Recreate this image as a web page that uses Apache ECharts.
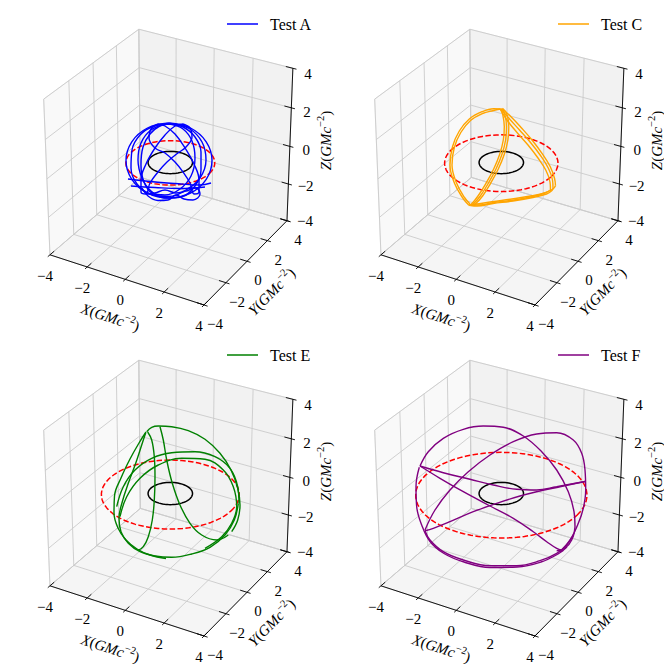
<!DOCTYPE html>
<html><head><meta charset="utf-8">
<script src="https://cdn.jsdelivr.net/npm/echarts@6/dist/echarts.min.js"></script>
<style>html,body{margin:0;padding:0;background:#fff}#c{width:664px;height:664px}</style>
</head><body><div id="c"></div>
<script>
// ---------------- data ----------------
const PANEL_NAMES = ['Test A', 'Test C', 'Test E', 'Test F'];
const PANEL_COLORS = ['#0000ff', '#ffa500', '#008000', '#800080'];
const AXIS_TICKS = [-4, -2, 0, 2, 4];
const TICK_LABELS = ['\u22124', '\u22122', '0', '2', '4'];
const AXIS_TITLES = ['X', 'Y', 'Z'];
const HORIZON_RADIUS = [1.0, 1.0, 1.0, 1.0];
const DASHED_RADIUS = [2.0, 2.55, 3.1, 3.85];

// orbit traces, in screen-plane units of each panel
const ORBIT_A = [
 [[169,123],[190.5,128],[206.2,141.8],[212,160.5],[206.2,179.3],[190.5,193],[169,198],[147.5,193],[131.8,179.3],[126,160.5],[131.8,141.8],[147.5,128],[169,123]],
 [[170,123.5],[189,128.5],[202,142],[206,160],[200,178],[186,190],[168,196.5],[150,194],[137,184],[131,168],[132,150],[140,135],[153,126.5],[170,123.5]],
 [[167,123.5],[183,127],[195,137],[201,152],[201,170],[195,186],[181,197],[165,198],[151,191],[142,178],[138,160],[141,143],[151,130],[167,123.5]],
 [[170,124],[183,129],[192,141],[195,158],[191,176],[180,189],[165,195],[152,193],[144,182],[141,165],[143,147],[150,134],[159,126.5],[170,124]],
 [[183,124],[190,128],[192,137],[186,147],[178,153],[167,162],[158,172],[150,183],[146,194],[141,192],[141,180],[146,164],[155,148],[165,135],[175,126],[183,124]],
 [[158,124],[151,129],[149,138],[155,148],[165,153],[175,162],[183,172],[190,183],[194,194],[199,192],[199,180],[194,164],[185,148],[175,134],[165,126],[158,124]],
 [[128,179],[150,181.5],[175,183.5],[200,185],[211,183]],
 [[131,186],[155,187.5],[180,188.5],[205,187]],
 [[142,188],[148,196],[158,200.5],[168,200],[176,195],[184,199],[193,200],[200,194],[196,188],[186,191],[176,193],[165,190],[155,193],[146,194]]
];
const ORBIT_C = [
 [[169.3,109],[162.7,108.7],[151,111.7],[138.3,119],[128.3,131],[121.5,146.7],[119,165],[123.5,183.3],[132,198.3],[137.7,205]],
 [[169.3,109],[162.5,110.5],[151.5,113.5],[139.5,120.5],[129.8,132.5],[123.3,147.5],[121,165],[125.3,182.5],[133.5,197.5],[139,204]],
 [[137.7,205],[144.3,204.3],[161,201.7],[181,199],[201,195.7],[215,192.3],[222,189],[224.5,185.7]],
 [[139.5,205.5],[146,206],[162,203.5],[182,201],[202,197.5],[215.5,194],[221,190.5],[222,188]],
 [[141,205],[148,205],[163,202.5],[183,200],[202,196.5],[214,193],[219.5,190]],
 [[224.5,185.7],[223.5,178.3],[219.3,166.7],[211,153.3],[201,140],[190.3,127.7],[181,117.7],[173.7,111],[169.3,109]],
 [[222,188],[221.5,180],[217.5,168.5],[209.5,155.5],[199.5,142.5],[188.5,130],[179,119.5],[172.5,112],[169.3,109]],
 [[219.5,190],[219,182],[215,170.5],[207,158],[197,145],[186,132.5],[177,121.5],[171.5,113],[169.3,109]],
 [[169.3,109],[171.7,114.3],[173.3,126.7],[172.3,140],[168.7,154.3],[162.7,169],[155,183.3],[147,196],[140.3,204.3],[137.7,205.7]],
 [[170.5,108.5],[173.7,114],[175.5,126.7],[174.6,140],[171,154.3],[165,169],[157.3,183.3],[149.3,196],[142.3,204],[139.5,205.5]],
 [[171.5,108.3],[175.8,114],[177.8,126.7],[176.9,140],[173.3,154.3],[167.3,169],[159.6,183.3],[151.6,196],[144.5,203.7],[141,205]]
];
const ORBIT_E = [
 [[145.7,101.7],[141.7,114],[135.7,132.3],[128.3,152.3],[122.3,170.7],[119,187.3],[121,200.7],[128.3,212.3],[140,220.7],[155,225],[171.7,226.3],[191.7,223],[210,216.3],[225,204],[234.3,189],[238.3,172.3]],
 [[146,101],[139,112],[130,128],[121,147],[114.5,165],[114,182],[118,197],[126,209],[137,218],[150,224],[166,227.5]],
 [[147.7,101],[151.7,109],[154.3,125.7],[155,145.7],[154.3,169],[152.3,189],[148.3,205.7],[143.3,215.7],[137.7,219.7]],
 [[146.7,100.7],[151.7,96.3],[158.3,95],[171.7,95.7],[188.3,99.7],[205,108.3],[220,122.3],[231,139],[237.7,157.3],[240,174],[237.7,189],[231.7,200.7]],
 [[160,95.7],[163.3,109],[166.7,129],[172.3,152.3],[180,174],[190,192.3],[201.7,204],[216.7,209],[228.3,204]],
 [[116.7,175.7],[123.3,155.7],[135,139],[151.7,127.3],[171.7,121.7],[195,120.7],[215,125.7],[230,137.3],[237.7,155.7],[239,172.3]],
 [[120,185.7],[126.7,165.7],[140,147.3],[158.3,134],[181.7,127.3],[205,128.3],[223.3,139],[233.3,155.7],[236.7,175.7],[231.7,192.3],[221.7,205.7],[205,217.3]]
];
const ORBIT_F = [
 [[89,135],[97.3,120.7],[112.3,107.3],[132.3,98.3],[152.3,95],[172.3,96.3],[192.3,105],[210.7,120.7],[225.7,139],[237.3,160.7],[243,180.7],[244,195.7],[240.7,209],[234,217.3],[225.7,219.7]],
 [[94,199],[104,179],[119,159],[137.3,140.7],[159,124],[182.3,110.7],[205.7,103],[225.7,101.7],[242.3,109],[250.7,122.3],[254,139],[254.7,159],[252.3,177.3],[247.3,192.3],[239,209],[229,220.7]],
 [[89,135],[112.3,141.7],[139,148.3],[162.3,154],[185.7,158.3],[205.7,159],[225.7,155.7],[254,150.5]],
 [[254,150.5],[229,155.7],[205.7,160.7],[189,165],[165.7,172.3],[142.3,180.7],[119,190.7],[102.3,197.3],[94,199.7]],
 [[89,135],[109,147.3],[132.3,160.7],[159,175],[182.3,187.3],[202.3,200.7],[215.7,210.7],[225.7,217.3],[232.3,219.7]],
 [[94,199.7],[99,209],[112.3,220.7],[132.3,229],[159,234.7],[185.7,234.7],[209,229.7],[225.7,222.3],[235.7,214],[242.3,204]],
 [[88.3,136.3],[85,155.7],[85.7,175.7],[90.7,194],[99,210.5],[113,222.5],[133,231],[159,236.5],[186,236],[210,231],[227,223],[236,216]]
];
const ORBITS = [ORBIT_A, ORBIT_C, ORBIT_E, ORBIT_F];

// ---------------- view (matplotlib-like 3D projection) ----------------
const ELEV = 30, AZIM = -60, DIST = 10;
const CX = 170.3, CY = 162.4, SCALE = 177.8, PANEL_STEP = 331, PANEL_SIZE = 332;
const LIM = 4;

const el = ELEV * Math.PI / 180, az = AZIM * Math.PI / 180;
const Wv = [Math.cos(el) * Math.cos(az), Math.cos(el) * Math.sin(az), Math.sin(el)];
let Uv = [-Wv[1], Wv[0], 0];
const nu = Math.hypot(Uv[0], Uv[1]);
Uv = [Uv[0] / nu, Uv[1] / nu, 0];
const Vv = [Wv[1]*Uv[2]-Wv[2]*Uv[1], Wv[2]*Uv[0]-Wv[0]*Uv[2], Wv[0]*Uv[1]-Wv[1]*Uv[0]];
function proj(X, Y, Z) {
  const p = [X / (2*LIM), Y / (2*LIM), Z / (2*LIM)];
  const dot = a => a[0]*p[0] + a[1]*p[1] + a[2]*p[2];
  const f = DIST / (DIST - dot(Wv));
  return [CX + SCALE * dot(Uv) * f, CY - SCALE * dot(Vv) * f];
}

// ---------------- helpers ----------------
const SERIF = '"Liberation Serif", "DejaVu Serif", serif';
const mctx = document.createElement('canvas').getContext('2d');
function textWidth(t, size, italic) {
  mctx.font = (italic ? 'italic ' : '') + size + 'px ' + SERIF;
  return mctx.measureText(t).width;
}

function buildFrame() {
  const panes = [
    {pts: [[-4,-4,-4],[-4,4,-4],[-4,4,4],[-4,-4,4]], fill: '#f9f9f9'},
    {pts: [[-4,4,-4],[4,4,-4],[4,4,4],[-4,4,4]], fill: '#f2f2f2'},
    {pts: [[-4,-4,-4],[4,-4,-4],[4,4,-4],[-4,4,-4]], fill: '#f5f5f5'}
  ];
  const grid = [], axes = [], ticks = [];
  AXIS_TICKS.forEach(t => {
    grid.push([[-4,t,-4],[-4,t,4]], [[-4,-4,t],[-4,4,t]]);
    grid.push([[t,4,-4],[t,4,4]], [[-4,4,t],[4,4,t]]);
    grid.push([[t,-4,-4],[t,4,-4]], [[-4,t,-4],[4,t,-4]]);
    ticks.push([[t,-4+0.35,-4],[t,-4-0.18,-4]]);
    ticks.push([[4-0.35,t,-4],[4+0.18,t,-4]]);
    ticks.push([[4-0.35,4,t],[4+0.18,4,t]]);
  });
  axes.push([[-4,-4,-4],[4,-4,-4]], [[4,-4,-4],[4,4,-4]], [[4,4,-4],[4,4,4]]);
  return {panes, grid, axes, ticks};
}
const FRAME = buildFrame();

function frameSeries(pi) {
  return {
    type: 'custom', xAxisIndex: pi, yAxisIndex: pi, z: 1, silent: true,
    data: [[0, 0]],
    renderItem: (params, api) => {
      const c = p => api.coord(proj(p[0], p[1], p[2]));
      const ch = [];
      FRAME.panes.forEach(pn => ch.push({type: 'polygon', shape: {points: pn.pts.map(c)}, style: {fill: pn.fill, stroke: '#ebebeb', lineWidth: 1}}));
      FRAME.grid.forEach(g => { const a = c(g[0]), b = c(g[1]); ch.push({type: 'line', shape: {x1: a[0], y1: a[1], x2: b[0], y2: b[1]}, style: {stroke: '#cbcbcb', lineWidth: 0.9}}); });
      FRAME.axes.forEach(g => { const a = c(g[0]), b = c(g[1]); ch.push({type: 'line', shape: {x1: a[0], y1: a[1], x2: b[0], y2: b[1]}, style: {stroke: '#000', lineWidth: 0.9}}); });
      FRAME.ticks.forEach(g => { const a = c(g[0]), b = c(g[1]); ch.push({type: 'line', shape: {x1: a[0], y1: a[1], x2: b[0], y2: b[1]}, style: {stroke: '#000', lineWidth: 0.9}}); });
      return {type: 'group', children: ch};
    }
  };
}

function titlePieces(letter) {
  return [
    {t: letter, it: true, size: 15, dy: 0},
    {t: '(', it: false, size: 15, dy: 0},
    {t: 'GMc', it: true, size: 15, dy: 0},
    {t: '\u22122', it: false, size: 10.5, dy: -5},
    {t: ')', it: false, size: 15, dy: 0}
  ];
}

function textSeries(pi) {
  return {
    type: 'custom', xAxisIndex: pi, yAxisIndex: pi, z: 10, silent: true,
    data: [[0, 0]],
    renderItem: (params, api) => {
      const ch = [];
      const at = (p, dx, dy) => { const q = proj(p[0], p[1], p[2]); return api.coord([q[0] + dx, q[1] + dy]); };
      AXIS_TICKS.forEach((t, k) => {
        const lab = TICK_LABELS[k];
        const st = {fill: '#000', fontSize: 15, fontFamily: SERIF, align: 'center', verticalAlign: 'middle'};
        let p = at([t, -4, -4], -5, 21);
        ch.push({type: 'text', x: p[0], y: p[1], style: Object.assign({text: lab}, st)});
        p = at([4, t, -4], 11, 19);
        ch.push({type: 'text', x: p[0], y: p[1], style: Object.assign({text: lab}, st)});
        p = at([4, 4, t], 16.5 - 0.36 * t, 3.2 + 0.64 * t);
        ch.push({type: 'text', x: p[0], y: p[1], style: Object.assign({text: lab}, st)});
      });
      const dirAngle = (a, b) => { const A = proj(a[0],a[1],a[2]), B = proj(b[0],b[1],b[2]); return -Math.atan2(B[1]-A[1], B[0]-A[0]); };
      const titles = [
        {letter: AXIS_TITLES[0], pos: at([0, -4, -4], -15, 38), rot: dirAngle([-4,-4,-4],[4,-4,-4])},
        {letter: AXIS_TITLES[1], pos: at([4, 0, -4], 24.7, 30.4), rot: dirAngle([4,-4,-4],[4,4,-4])},
        {letter: AXIS_TITLES[2], pos: at([4, 4, 0], 36, -6), rot: Math.PI / 2}
      ];
      titles.forEach(tt => {
        const pcs = titlePieces(tt.letter);
        const widths = pcs.map(pc => textWidth(pc.t, pc.size, pc.it));
        const total = widths.reduce((s, w) => s + w, 0);
        let x = -total / 2;
        const kids = pcs.map((pc, i) => {
          const e = {type: 'text', x: x, y: pc.dy, style: {text: pc.t, fill: '#000', fontSize: pc.size, fontStyle: pc.it ? 'italic' : 'normal', fontFamily: SERIF, align: 'left', verticalAlign: 'middle'}};
          x += widths[i];
          return e;
        });
        ch.push({type: 'group', x: tt.pos[0], y: tt.pos[1], rotation: tt.rot, children: kids});
      });
      return {type: 'group', children: ch};
    }
  };
}

function circleData(r) {
  const out = [];
  for (let k = 0; k <= 72; k++) {
    const a = k * 5 * Math.PI / 180;
    out.push(proj(r * Math.cos(a), r * Math.sin(a), 0));
  }
  return out;
}

// ---------------- option ----------------
const grids = [], xAxes = [], yAxes = [], series = [], legends = [];
PANEL_NAMES.forEach((name, pi) => {
  const col = pi % 2, row = Math.floor(pi / 2);
  grids.push({left: col * PANEL_STEP, top: row * PANEL_STEP, width: PANEL_SIZE, height: PANEL_SIZE});
  xAxes.push({type: 'value', gridIndex: pi, min: 0, max: PANEL_SIZE, show: false});
  yAxes.push({type: 'value', gridIndex: pi, min: 0, max: PANEL_SIZE, inverse: true, show: false});
  series.push(frameSeries(pi));
  series.push({type: 'line', xAxisIndex: pi, yAxisIndex: pi, z: 3, silent: true, symbol: 'none', data: circleData(DASHED_RADIUS[pi]),
    lineStyle: {color: '#ff0000', width: 1.5, type: [5.5, 2.4]}});
  series.push({type: 'line', xAxisIndex: pi, yAxisIndex: pi, z: 3, silent: true, symbol: 'none', data: circleData(HORIZON_RADIUS[pi]),
    lineStyle: {color: '#000000', width: 1.5}});
  ORBITS[pi].forEach(seg => {
    series.push({type: 'line', name: name, xAxisIndex: pi, yAxisIndex: pi, z: 4, silent: true, symbol: 'none', smooth: 0.4,
      data: seg, color: PANEL_COLORS[pi], lineStyle: {color: PANEL_COLORS[pi], width: 1.4}});
  });
  series.push(textSeries(pi));
  legends.push({data: [name], left: col * PANEL_STEP + 227, top: row * PANEL_STEP + 16, padding: 0,
    icon: 'rect', itemWidth: 31, itemHeight: 1.5, selectedMode: false,
    textStyle: {fontFamily: SERIF, fontSize: 16, color: '#000', padding: [0, 0, 0, 7]}});
});

const chart = echarts.init(document.getElementById('c'), null, {renderer: 'svg'});
chart.setOption({
  animation: false,
  backgroundColor: '#ffffff',
  grid: grids, xAxis: xAxes, yAxis: yAxes, legend: legends, series: series
});
</script></body></html>
